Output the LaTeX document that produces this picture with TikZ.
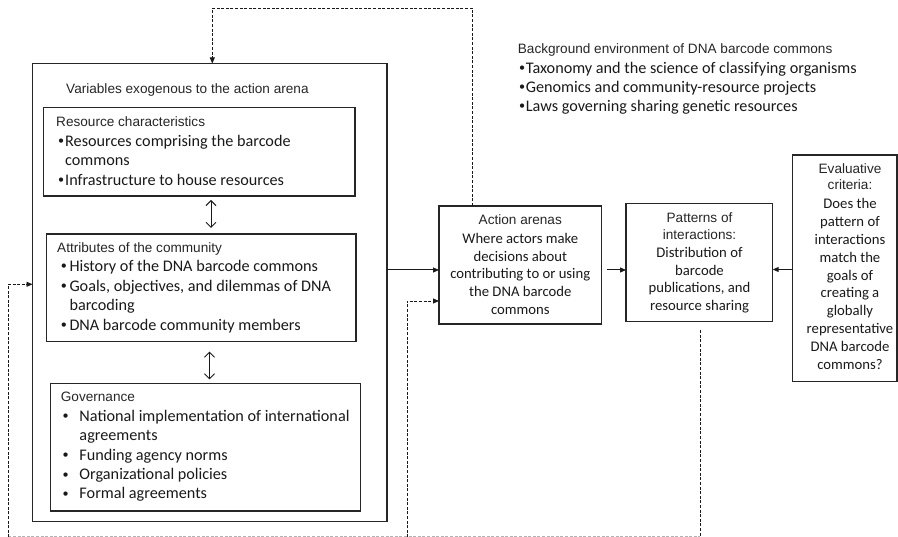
\documentclass[tikz,border=0pt]{standalone}
\usepackage{fontspec}
\setmainfont{Carlito}
\newfontfamily\arialf{Liberation Sans}
\usetikzlibrary{arrows.meta,calc}
\newcommand\bu[1]{\makebox[#1pt][l]{\raisebox{0.1em}{\scalebox{0.75}{•}}}}
\newcommand\txtlines[6]{%
  \foreach \t [count=\i] in {#6} {\node[#1] (#2\i) at (#3,{#4+(\i-1)*#5}) {\t};}}
\begin{document}
\begin{tikzpicture}[x=1pt,y=-1pt,
  box/.style={draw=black!85,line width=1.2pt,outer sep=0pt,inner sep=0pt,anchor=north west},
  hd/.style={font=\arialf\fontsize{13.6}{16}\selectfont,inner sep=0pt,anchor=base west,text=black!85},
  bl/.style={font=\fontsize{16.2}{19}\selectfont,inner sep=0pt,anchor=base west,text=black!90},
  ch/.style={font=\arialf\fontsize{13.6}{16}\selectfont,inner sep=0pt,anchor=base,text=black!85},
  cl/.style={font=\fontsize{14.7}{17}\selectfont,inner sep=0pt,anchor=base,text=black!90},
  arr/.style={-{Triangle[length=6pt,width=5pt]},line width=1pt,draw=black!90},
  dsh/.style={dash pattern=on 3pt off 1.6pt,line width=0.9pt,draw=black!90},
  dtip/.style={-{Triangle[length=6pt,width=5pt]}},
  dbl/.style={{Straight Barb[length=5pt,width=10pt]}-{Straight Barb[length=5pt,width=10pt]},line width=0.9pt,draw=black!90}
]
\useasboundingbox (0,0) rectangle (898,537);

% boxes
\node[box,minimum width=354.5pt,minimum height=458pt] (outer) at (32.5,63.5) {};
\node[box,minimum width=311.5pt,minimum height=88.3pt] (rc) at (43.5,107.7) {};
\node[box,minimum width=309.3pt,minimum height=107.7pt] (att) at (46.7,234) {};
\node[box,minimum width=310pt,minimum height=127.7pt] (gov) at (50.7,383.3) {};
\node[box,minimum width=162.7pt,minimum height=118pt] (action) at (439,206) {};
\node[box,minimum width=146.7pt,minimum height=118.4pt] (pat) at (626,203.3) {};
\node[box,minimum width=104.3pt,minimum height=226.7pt] (eval) at (792.7,155) {};

% texts
\node[hd] (title) at (66,94) {Variables exogenous to the action arena};

\node[hd] (rch) at (56,126.7) {Resource characteristics};
\txtlines{bl}{rcl}{58}{146.2}{19.7}{{\bu{7}Resources comprising the barcode},{\hspace*{7pt}commons},{\bu{7}Infrastructure to house resources}}

\node[hd] (atth) at (57,252.3) {Attributes of the community};
\txtlines{bl}{attl}{60.7}{271.6}{19.5}{{\bu{8.6}History of the DNA barcode commons},{\bu{8.6}Goals, objectives, and dilemmas of DNA},{\hspace*{8.6pt}barcoding},{\bu{8.6}DNA barcode community members}}

\node[hd] (govh) at (60.7,401.7) {Governance};
\txtlines{bl}{govl}{62.3}{421.6}{19.35}{{\bu{17}National implementation of international},{\hspace*{17pt}agreements},{\bu{17}Funding agency norms},{\bu{17}Organizational policies},{\bu{17}Formal agreements}}

\node[hd] (bgh) at (517.7,53.3) {Background environment of DNA barcode commons};
\txtlines{bl}{bgl}{519}{73.2}{19}{{\bu{6.7}Taxonomy and the science of classifying organisms},{\bu{6.7}Genomics and community-resource projects},{\bu{6.7}Laws governing sharing genetic resources}}

\node[ch] (acth) at (520.3,224.3) {Action arenas};
\txtlines{cl}{actl}{520.3}{243.3}{17.75}{Where actors make,decisions about,contributing to or using,the DNA barcode,commons}

\node[ch] (path1) at (699.5,222.7) {Patterns of};
\node[ch] (path2) at (699.5,239.4) {interactions:};
\txtlines{cl}{patl}{699.5}{257.3}{17.75}{Distribution of,barcode,{publications, and},resource sharing}

\node[ch] (evh1) at (850,173.3) {Evaluative};
\node[ch] (evh2) at (850,190) {criteria:};
\txtlines{cl}{evl}{850}{209}{17.78}{Does the,pattern of,interactions,match the,goals of,creating a,globally,representative,DNA barcode,commons?}

% connectors
\draw[arr] (outer.east |- 0,270) -- (action.west |- 0,270);
\draw[arr] ($(action.east |- 0,270)+(5,0)$) -- (pat.west |- 0,270);
\draw[arr] (eval.west |- 0,269.5) -- (pat.east |- 0,269.5);

\draw[dbl] ($(rc.south -| 211,0)+(0,4)$) -- ($(att.north -| 211,0)+(0,-6)$);
\draw[dbl] ($(att.south -| 209.5,0)+(0,10)$) -- ($(gov.north -| 209.5,0)+(0,-4)$);

\coordinate (topR) at (472.7,8.3);
\coordinate (topL) at (212.3,8.3);
\draw[dsh,dtip] (action.north -| topR) -- (topR) -- (topL) -- (outer.north -| topL);

\coordinate (botR) at (700,537.5);
\coordinate (botM) at (407,537.5);
\coordinate (botL) at (8.3,537.5);
\coordinate (midL) at (8.3,284.3);
\coordinate (midM) at (407,301);
\draw[dsh] ($(pat.south -| botR)+(0,8.5)$) -- (botR);
\draw[dsh,draw=black!30,line width=0.7pt] (8.3,536) -- (700,536);
\draw[dsh,dtip] (botL) -- (midL) -- (outer.west |- midL);
\draw[dsh,dtip] (botM) -- (midM) -- (action.west |- midM);
\end{tikzpicture}
\end{document}
